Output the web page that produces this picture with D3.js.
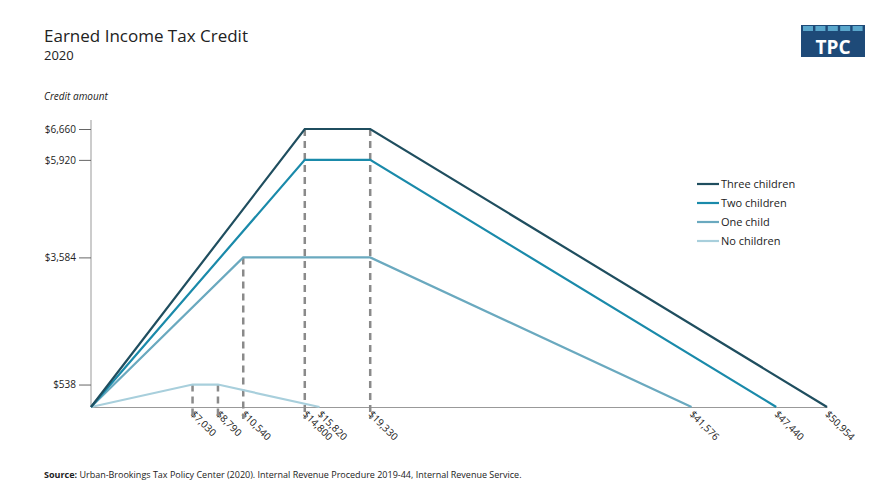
<!DOCTYPE html>
<html><head><meta charset="utf-8">
<script src="https://cdn.jsdelivr.net/npm/d3@7"></script>
<style>body{margin:0;background:#fff;font-family:"Open Sans",sans-serif}</style>
</head><body><svg id="c" width="889" height="502"></svg>
<script>
// data
var seriesNames = ["Three children", "Two children", "One child", "No children"];
var seriesColors = ["#1f4e5f", "#1a8aaa", "#6aa9bf", "#a8cfdc"];
var seriesPoints = [
  [[0, 0], [14800, 6660], [19330, 6660], [50954, 0]],
  [[0, 0], [14800, 5920], [19330, 5920], [47440, 0]],
  [[0, 0], [10540, 3584], [19330, 3584], [41576, 0]],
  [[0, 0], [7030, 538], [8790, 538], [15820, 0]]
];
var xTicks = [7030, 8790, 10540, 14800, 15820, 19330, 41576, 47440, 50954];
var yTicks = [538, 3584, 5920, 6660];
var dropLines = [[7030, 538], [8790, 538], [10540, 3584], [14800, 6660], [19330, 6660]];

var svg = d3.select("#c");
var x = d3.scaleLinear().domain([0, 50954]).range([91, 827]);
var y = d3.scaleLinear().domain([0, 6660]).range([407, 129]);
var fmt = function(d) { return "$" + d3.format(",")(d); };

svg.append("text").attr("x", 44).attr("y", 42).attr("font-size", 17).attr("fill", "#222").text("Earned Income Tax Credit");
svg.append("text").attr("x", 44).attr("y", 60).attr("font-size", 13).attr("fill", "#222").text("2020");
svg.append("text").attr("x", 44).attr("y", 100).attr("font-size", 10).attr("font-style", "italic").attr("fill", "#222").text("Credit amount");

// logo
var logo = svg.append("g").attr("transform", "translate(801,25)");
logo.append("rect").attr("width", 64).attr("height", 32).attr("fill", "#1e4a78");
for (var i = 0; i < 5; i++) logo.append("rect").attr("x", 2 + i * 12.4).attr("y", 1).attr("width", 10).attr("height", 5).attr("fill", "#5aa7cc");
logo.append("text").attr("x", 32).attr("y", 29).attr("text-anchor", "middle").attr("font-size", 19).attr("font-weight", "bold").attr("fill", "#fff").text("TPC");

// axes
svg.append("line").attr("x1", 91).attr("x2", 91).attr("y1", 120).attr("y2", 407).attr("stroke", "#999");
var ya = svg.append("g").attr("transform", "translate(91,0)")
  .call(d3.axisLeft(y).tickValues(yTicks).tickFormat(fmt).tickSize(12).tickPadding(3));
ya.select(".domain").remove();
ya.selectAll("line").attr("stroke", "#666");
ya.selectAll("text").attr("font-size", 10).attr("fill", "#222").attr("font-family", "Open Sans");

var xa = svg.append("g").attr("transform", "translate(0,407)")
  .call(d3.axisBottom(x).tickValues(xTicks).tickFormat(fmt).tickSize(0));
xa.select(".domain").attr("stroke", "#999");
xa.selectAll("text").attr("font-size", 10).attr("fill", "#222").attr("font-family", "Open Sans")
  .attr("text-anchor", "start").attr("transform", "translate(-2,4) rotate(45)").attr("dy", "0.35em").attr("y", 0).attr("x", 2);

// drop lines
svg.selectAll(".drop").data(dropLines).enter().append("line")
  .attr("x1", function(d) { return x(d[0]); }).attr("x2", function(d) { return x(d[0]); })
  .attr("y1", function(d) { return y(d[1]); }).attr("y2", y(0) + 12)
  .attr("stroke", "#8a8a8a").attr("stroke-width", 2.5).attr("stroke-dasharray", "7,5");

var line = d3.line().x(function(d) { return x(d[0]); }).y(function(d) { return y(d[1]); });
svg.selectAll(".s").data(seriesPoints.slice().reverse()).enter().append("path")
  .attr("d", line).attr("fill", "none").attr("stroke-width", 2.2)
  .attr("stroke", function(d, i) { return seriesColors[3 - i]; });

// legend
var lg = svg.selectAll(".lg").data(seriesNames).enter().append("g")
  .attr("transform", function(d, i) { return "translate(697," + (184 + i * 19) + ")"; });
lg.append("line").attr("x1", 0).attr("x2", 22).attr("stroke-width", 2.2).attr("stroke", function(d, i) { return seriesColors[i]; });
lg.append("text").attr("x", 24).attr("dy", "0.35em").attr("font-size", 11).attr("fill", "#222").text(function(d) { return d; });

var src = svg.append("text").attr("x", 44).attr("y", 478).attr("font-size", 9).attr("fill", "#222");
src.append("tspan").attr("font-weight", "bold").text("Source: ");
src.append("tspan").text("Urban-Brookings Tax Policy Center (2020). Internal Revenue Procedure 2019-44, Internal Revenue Service.");
</script></body></html>
